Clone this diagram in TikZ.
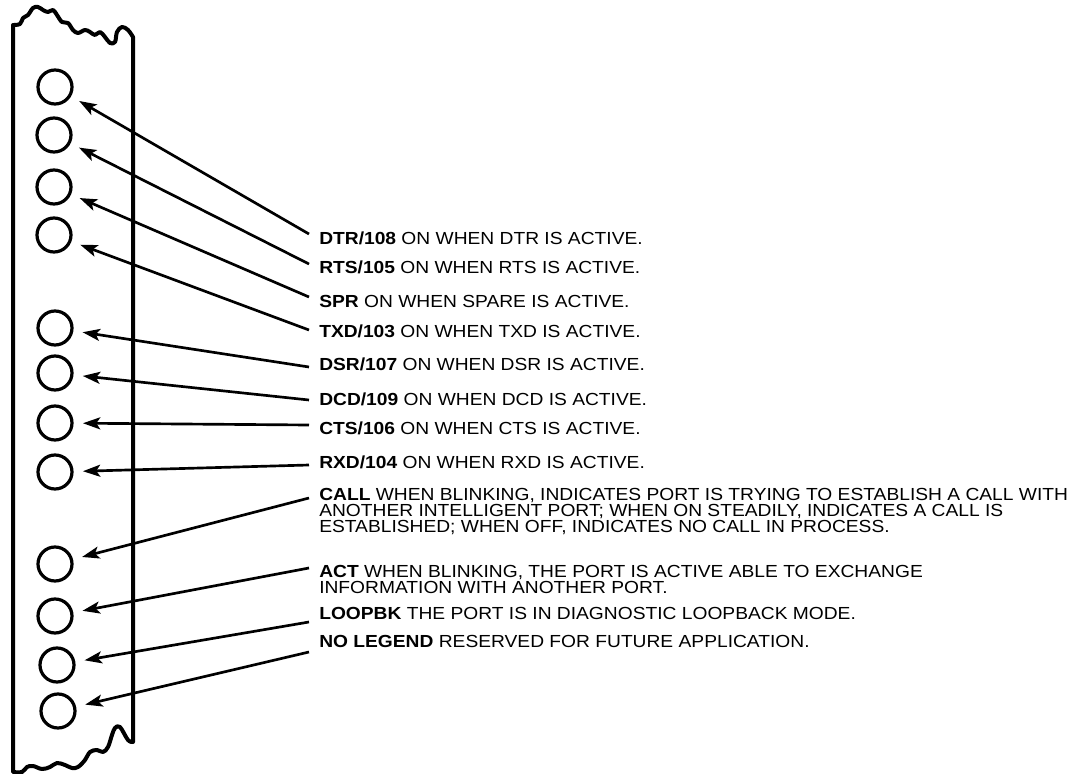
\documentclass[tikz,border=0pt]{standalone}
\usepackage{fontspec}
\setmainfont{Liberation Sans}[FakeStretch=1.1]
\usetikzlibrary{arrows.meta}

\begin{document}
\begin{tikzpicture}[x=0.75pt,y=-0.75pt,
    led/.style={draw,circle,line width=2.4pt,minimum size=25.5pt,inner sep=0pt},
    legend/.style={anchor=north west,inner xsep=7.5pt,inner ysep=0pt,align=left,
      font=\fontsize{13.1}{12.2}\selectfont},
    pointer/.style={-{Stealth[length=13pt,width=9pt,inset=3pt]},line width=2pt,shorten >=7pt}]
\useasboundingbox (0,0) rectangle (1079,774);

% torn panel
\draw[line width=3pt,line join=round]
    (13,772) -- plot[smooth,tension=.6] coordinates {(13,25) (20,24) (23,18) (28,15) (33,8) (38,7) (43,10)
      (48,12) (53,10) (57,15) (62,22) (68,23) (73,30) (78,33) (85,30) (90,32) (95,35) (100,32)
      (105,37) (110,43) (115,42) (117,32) (122,27) (128,30) (133,37)}
    -- plot[smooth,tension=.6] coordinates {(133,742) (128,740) (120,727) (115,728) (112,735) (108,747)
      (103,752) (97,750) (90,752) (85,760) (78,767) (72,768) (65,765) (57,763) (50,767) (42,769)
      (33,766) (27,767) (22,772) (13,772)} -- cycle;

\foreach \n/\x/\y in {1/55/87, 2/54/135, 3/54/187, 4/54/235, 5/55/328, 6/55/373,
    7/55/423, 8/55/472, 9/55/564, 10/55/616, 11/57/665, 12/58/711}
  \node[led] (led\n) at (\x,\y) {};

\node[legend] (dtr) at (309,232) {\textbf{DTR/108} ON WHEN DTR IS ACTIVE.};
\node[legend] (rts) at (309,261) {\textbf{RTS/105} ON WHEN RTS IS ACTIVE.};
\node[legend] (spr) at (309,295) {\textbf{SPR} ON WHEN SPARE IS ACTIVE.};
\node[legend] (txd) at (309,325) {\textbf{TXD/103} ON WHEN TXD IS ACTIVE.};
\node[legend] (dsr) at (309,358) {\textbf{DSR/107} ON WHEN DSR IS ACTIVE.};
\node[legend] (dcd) at (309,393) {\textbf{DCD/109} ON WHEN DCD IS ACTIVE.};
\node[legend] (cts) at (309,422) {\textbf{CTS/106} ON WHEN CTS IS ACTIVE.};
\node[legend] (rxd) at (309,456) {\textbf{RXD/104} ON WHEN RXD IS ACTIVE.};
\node[legend] (call) at (309,488) {\textbf{CALL} WHEN BLINKING, INDICATES PORT IS TRYING TO ESTABLISH A CALL WITH\\
  ANOTHER INTELLIGENT PORT; WHEN ON STEADILY, INDICATES A CALL IS\\
  ESTABLISHED; WHEN OFF, INDICATES NO CALL IN PROCESS.};
\node[legend] (act) at (309,565) {\textbf{ACT} WHEN BLINKING, THE PORT IS ACTIVE ABLE TO EXCHANGE\\
  INFORMATION WITH ANOTHER PORT.};
\node[legend] (loop) at (309,607) {\textbf{LOOPBK} THE PORT IS IN DIAGNOSTIC LOOPBACK MODE.};
\node[legend] (nolg) at (309,635) {\textbf{NO LEGEND} RESERVED FOR FUTURE APPLICATION.};

\foreach \l/\n/\s in {dtr/1/2, rts/2/3, spr/3/2, txd/4/5, dsr/5/9, dcd/6/7, cts/7/3, rxd/8/9,
    call/9/10, act/10/3, loop/11/15, nolg/12/17}
  \draw[pointer] ([yshift=-\s*0.75pt]\l.north west) -- (led\n);
\end{tikzpicture}
\end{document}
